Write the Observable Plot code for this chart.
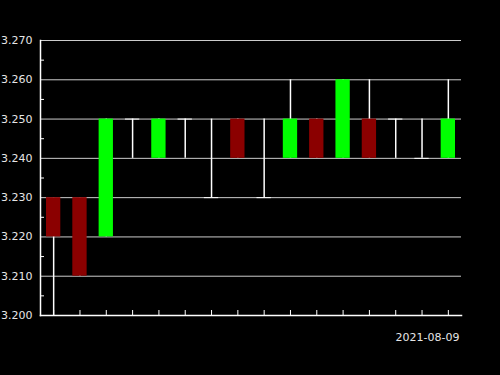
<!DOCTYPE html>
<html>
<head>
<meta charset="utf-8">
<script src="https://cdn.jsdelivr.net/npm/d3@7"></script>
<script src="https://cdn.jsdelivr.net/npm/@observablehq/plot@0.6"></script>
<style>
  html, body { margin: 0; padding: 0; background: #000; }
  #chart svg { display: block; background: #000; }
</style>
</head>
<body>
<div id="chart"></div>
<script>
// Daily sessions (oldest first) and OHLC prices
const sessions = [1, 2, 3, 4, 5, 6, 7, 8, 9, 10, 11, 12, 13, 14, 15, 16];
const open  = [3.23, 3.23, 3.22, 3.25, 3.24, 3.25, 3.23, 3.25, 3.23, 3.24, 3.25, 3.24, 3.25, 3.25, 3.24, 3.24];
const high  = [3.23, 3.23, 3.25, 3.25, 3.25, 3.25, 3.25, 3.25, 3.25, 3.26, 3.25, 3.26, 3.26, 3.25, 3.25, 3.26];
const low   = [3.20, 3.21, 3.22, 3.24, 3.24, 3.24, 3.23, 3.24, 3.23, 3.24, 3.24, 3.24, 3.24, 3.24, 3.24, 3.24];
const close = [3.22, 3.21, 3.25, 3.25, 3.25, 3.25, 3.23, 3.24, 3.23, 3.25, 3.24, 3.26, 3.24, 3.25, 3.24, 3.25];

// Axis ticks
const majorTicks = [3.20, 3.21, 3.22, 3.23, 3.24, 3.25, 3.26, 3.27];
const minorTicks = [3.205, 3.215, 3.225, 3.235, 3.245, 3.255, 3.265];
const dateLabel = "2021-08-09";

const candles = sessions.map((s, i) => ({
  s, open: open[i], high: high[i], low: low[i], close: close[i]
}));
const bodies = candles.filter(d => d.open !== d.close);
const dojis = candles.filter(d => d.open === d.close);

const chart = Plot.plot({
  width: 500,
  height: 375,
  marginLeft: 40,
  marginRight: 39,
  marginTop: 40,
  marginBottom: 60,
  style: { background: "#000", fontFamily: "DejaVu Sans", fontSize: "11px" },
  x: { type: "band", domain: sessions, padding: 0, round: false, axis: null },
  y: { domain: [3.20, 3.27], axis: null },
  marks: [
    Plot.ruleY(majorTicks, { stroke: "#cccccc", strokeWidth: 1 }),
    Plot.ruleX(candles, { x: "s", y1: "low", y2: "high", stroke: "#ffffff", strokeWidth: 1.5 }),
    Plot.barY(bodies, {
      x: "s", y1: "open", y2: "close",
      fill: d => d.close > d.open ? "#00ff00" : "#8b0000",
      insetLeft: 6, insetRight: 6
    }),
    Plot.tickY(dojis, { x: "s", y: "close", stroke: "#ffffff", strokeWidth: 1, insetLeft: 6, insetRight: 6 }),
    Plot.axisY({
      ticks: majorTicks, tickSize: 0, tickPadding: 8,
      tickFormat: d3.format(".3f"), fill: "#e6e6e6", label: null
    }),
    Plot.axisY({ ticks: minorTicks, tickSize: 4, dx: 4, stroke: "#ffffff", tickFormat: () => "", label: null }),
    Plot.axisX({ ticks: sessions, tickSize: 5, dy: -5, stroke: "#ffffff", tickFormat: () => "", label: null }),
    Plot.frame({ anchor: "left", stroke: "#ffffff", strokeWidth: 1.5 }),
    Plot.frame({ anchor: "bottom", stroke: "#ffffff", strokeWidth: 1.5 }),
    Plot.text([dateLabel], {
      frameAnchor: "bottom-right", text: d => d,
      dx: -2, dy: 25, textAnchor: "end", fill: "#e6e6e6", fontSize: 11
    })
  ]
});

document.getElementById("chart").append(chart);
</script>
</body>
</html>
